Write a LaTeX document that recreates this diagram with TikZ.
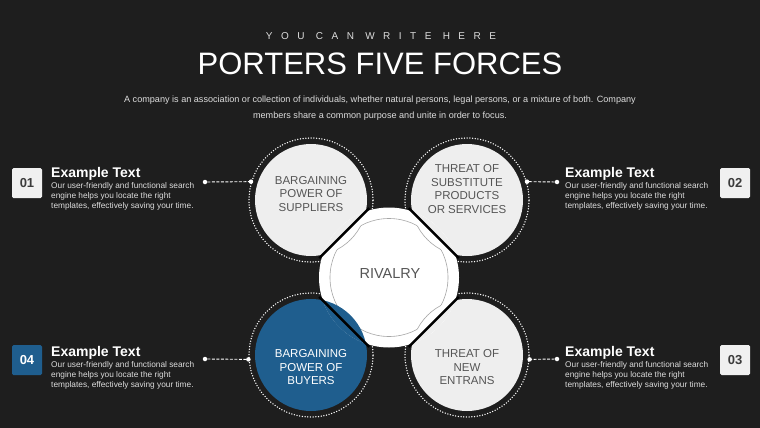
\documentclass[tikz,border=0pt]{standalone}
\usepackage{fontspec}
\setmainfont{Liberation Sans}
\usetikzlibrary{positioning,calc}

\definecolor{bgc}{HTML}{1E1E1E}
\definecolor{lightc}{HTML}{EEEEEE}
\definecolor{bluec}{HTML}{1F5E8E}
\definecolor{labc}{HTML}{555555}
\definecolor{boxc}{HTML}{F0F0F0}
\definecolor{bodyc}{HTML}{DDDDDD}

\pgfdeclareradialshading{lenslight}{\pgfpoint{0bp}{0bp}}
  {color(0bp)=(white); color(40bp)=(white); color(46bp)=(gray!15); color(50bp)=(gray!45)}
\pgfdeclareradialshading{lensblue}{\pgfpoint{0bp}{0bp}}
  {color(0bp)=(bluec); color(46bp)=(bluec); color(49bp)=(bluec!45!white); color(50bp)=(white)}

\tikzset{
  force/.style={circle, inner sep=0, minimum size=112},
  ring/.style={circle, inner sep=0, minimum size=124, draw=white, line width=1.5, dash pattern=on 0pt off 2.7pt, line cap=round},
  forcetext/.style={align=center, inner sep=0, text=labc, font=\fontsize{11.5}{13.5}\selectfont},
  numbox/.style={fill=boxc, rounded corners=1.5, minimum size=30, inner sep=0, text=labc!70!black, font=\fontsize{13}{13}\selectfont\bfseries},
  extitle/.style={anchor=base west, inner sep=0, text=white, font=\fontsize{14}{14}\selectfont\bfseries},
  exbody/.style={anchor=north west, inner sep=0, align=left, text=bodyc, font=\fontsize{8.3}{10.3}\selectfont},
  dotnode/.style={circle, fill=white, inner sep=0, minimum size=4.5},
  conn/.style={white, line width=0.9, dash pattern=on 3pt off 1.5pt},
}

\begin{document}
\begin{tikzpicture}[x=1pt, y=-1pt]
\fill[bgc] (0,0) rectangle (760,428);

% heading
\node[text=bodyc, font=\fontsize{10}{10}\selectfont\addfontfeature{LetterSpace=85}] (kicker) at (381,36) {YOU CAN WRITE HERE};
\node[text=white, font=\fontsize{31}{31}\selectfont] (title) at (380,64) {PORTERS FIVE FORCES};
\node[text=bodyc, align=center, font=\fontsize{9.1}{16.5}\selectfont] (intro) at (380,108)
  {A company is an association or collection of individuals, whether natural persons, legal persons, or a mixture of both. Company\\
   members share a common purpose and unite in order to focus.};

% the four forces
\foreach \nm/\cx/\cy/\col in {supp/311/200/lightc, subs/467/200/lightc, entr/467/355/lightc, buy/311/355/bluec} {
  \node[ring] (\nm-ring) at (\cx,\cy) {};
  \node[force, fill=\col] (\nm) at (\cx,\cy) {};
}

% rivalry in the middle
\coordinate (mid) at (389,277.5);
\fill[white] (mid) circle[radius=70];
\draw[gray!70, line width=0.6] (mid) circle[radius=59];
\begin{scope}
  \clip (mid) circle[radius=70];
  \foreach \cx/\cy/\sh in {311/200/lenslight, 467/200/lenslight, 467/355/lenslight, 311/355/lensblue}
    \shade[shading=\sh] (\cx,\cy) circle[radius=56];
  \foreach \dx/\dy/\col in {-1/-1/lightc, 1/-1/lightc, 1/1/lightc, -1/1/bluec}
    \fill[\col] ($(mid)+(44.7*\dx,44.4*\dy)+(-24.7*\dy,24.7*\dx)$)
      -- ($(mid)+(44.7*\dx,44.4*\dy)+(24.7*\dy,-24.7*\dx)$)
      -- ($(mid)+(78*\dx,77.5*\dy)$) -- cycle;
\end{scope}
\begin{scope}
  \clip (mid) circle[radius=59];
  \foreach \cx/\cy in {311/200, 467/200, 467/355}
    \draw[gray!70, line width=0.6] (\cx,\cy) circle[radius=56];
\end{scope}
\foreach \dx/\dy in {-1/-1, 1/-1, 1/1, -1/1}
  \draw[black, line width=2.4] ($(mid)+(44.7*\dx,44.4*\dy)+(-25*\dy,25*\dx)$)
    -- ($(mid)+(44.7*\dx,44.4*\dy)+(25*\dy,-25*\dx)$);

\node[text=labc, font=\fontsize{14.5}{14.5}\selectfont] (rival) at (390,274) {RIVALRY};
\node[forcetext] at ([yshift=6]supp.center) {BARGAINING\\POWER OF\\SUPPLIERS};
\node[forcetext] at ([yshift=11]subs.center) {THREAT OF\\SUBSTITUTE\\PRODUCTS\\OR SERVICES};
\node[forcetext] at ([yshift=-12.5]entr.center) {THREAT OF\\NEW\\ENTRANS};
\node[forcetext, text=white] at ([yshift=-12.5]buy.center) {BARGAINING\\POWER OF\\BUYERS};

% side notes
\node[numbox] (n1) at (27,183) {01};
\node[numbox] (n2) at (735,183) {02};
\node[numbox] (n3) at (735,360) {03};
\node[numbox, fill=bluec, text=white] (n4) at (27,360) {04};

\foreach \nm/\tx/\ty in {t1/51/177, t2/565/177, t3/565/356, t4/51/356} {
  \node[extitle] (\nm) at (\tx,\ty) {Example Text};
  \node[exbody] (\nm-body) at (\tx,\ty+5) {Our user-friendly and functional search\\engine helps you locate the right\\templates, effectively saving your time.};
}

\node[dotnode] (d1) at (205,182) {};
\node[dotnode] (d2) at (557,182) {};
\node[dotnode] (d3) at (557,359) {};
\node[dotnode] (d4) at (205,359) {};
\draw[conn] (d1) -- (supp-ring.163) node[dotnode] {};
\draw[conn] (d2) -- (subs-ring.17) node[dotnode] {};
\draw[conn] (d3) -- (entr-ring.356) node[dotnode] {};
\draw[conn] (d4) -- (buy-ring.184) node[dotnode] {};
\end{tikzpicture}
\end{document}
